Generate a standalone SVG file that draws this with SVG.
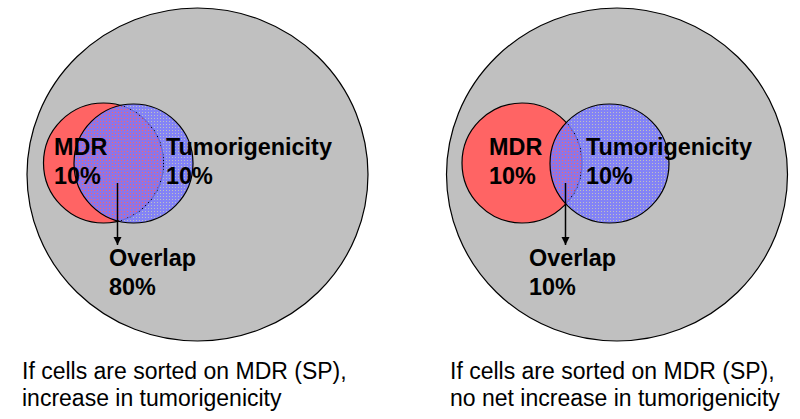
<svg xmlns="http://www.w3.org/2000/svg" width="800" height="419" viewBox="0 0 800 419">
<defs>
<pattern id="dots" width="3" height="3" patternUnits="userSpaceOnUse">
<path d="M0,0H3V3H0Z M1,1V2H2V1Z" fill="#7878FF" fill-opacity="0.85" fill-rule="evenodd"/>
</pattern>
<marker id="arr" markerWidth="8" markerHeight="10" refX="8" refY="4" orient="auto" markerUnits="userSpaceOnUse">
<path d="M0,0 L8,4 L0,8 Z" fill="#000"/>
</marker>
</defs>
<style>
.outer{fill:#C0C0C0;stroke:#000;stroke-width:1.2}
.mdr{fill:#FF6464;stroke:#000;stroke-width:1.2}
.tum{fill:url(#dots);stroke:#000;stroke-width:1.2}
.lbl{font-family:"Liberation Sans",Arial,sans-serif;font-weight:bold;font-size:23.4px;fill:#000}
.cap{font-family:"Liberation Sans",Arial,sans-serif;font-size:23px;fill:#000}
.conn{stroke:#000;stroke-width:1.5;fill:none}
</style>
<rect width="800" height="419" fill="#fff"/>
<g id="population-left"><ellipse class="outer" cx="197.5" cy="174.5" rx="170.5" ry="166.5"/></g>
<g id="mdr-left"><circle class="mdr" cx="103.5" cy="163" r="60"/></g>
<g id="tumor-left"><circle class="tum" cx="133.5" cy="163.5" r="59.5"/></g>
<g id="population-right"><ellipse class="outer" cx="617" cy="174.5" rx="170.5" ry="166.5"/></g>
<g id="mdr-right"><circle class="mdr" cx="522" cy="163" r="60"/></g>
<g id="tumor-right"><circle class="tum" cx="609.5" cy="163.5" r="59.5"/></g>
<g id="connectors">
<line class="conn" x1="117.5" y1="183" x2="117.5" y2="245" marker-end="url(#arr)"/>
<line class="conn" x1="565.5" y1="183" x2="565.5" y2="245" marker-end="url(#arr)"/>
</g>
<g id="mdr-left-label"><text class="lbl" x="54" y="155">MDR</text><text class="lbl" x="54" y="184">10%</text></g>
<g id="tumor-left-label"><text class="lbl" x="166" y="155">Tumorigenicity</text><text class="lbl" x="166" y="184">10%</text></g>
<g id="overlap-left"><text class="lbl" x="109" y="266">Overlap</text><text class="lbl" x="109" y="295">80%</text></g>
<g id="mdr-right-label"><text class="lbl" x="489" y="155">MDR</text><text class="lbl" x="489" y="184">10%</text></g>
<g id="tumor-right-label"><text class="lbl" x="586" y="155">Tumorigenicity</text><text class="lbl" x="586" y="184">10%</text></g>
<g id="overlap-right"><text class="lbl" x="529" y="266">Overlap</text><text class="lbl" x="529" y="295">10%</text></g>
<g id="caption-left"><text class="cap" x="22" y="379">If cells are sorted on MDR (SP),</text><text class="cap" x="22" y="406">increase in tumorigenicity</text></g>
<g id="caption-right"><text class="cap" x="450" y="379">If cells are sorted on MDR (SP),</text><text class="cap" x="450" y="406">no net increase in tumorigenicity</text></g>
</svg>
